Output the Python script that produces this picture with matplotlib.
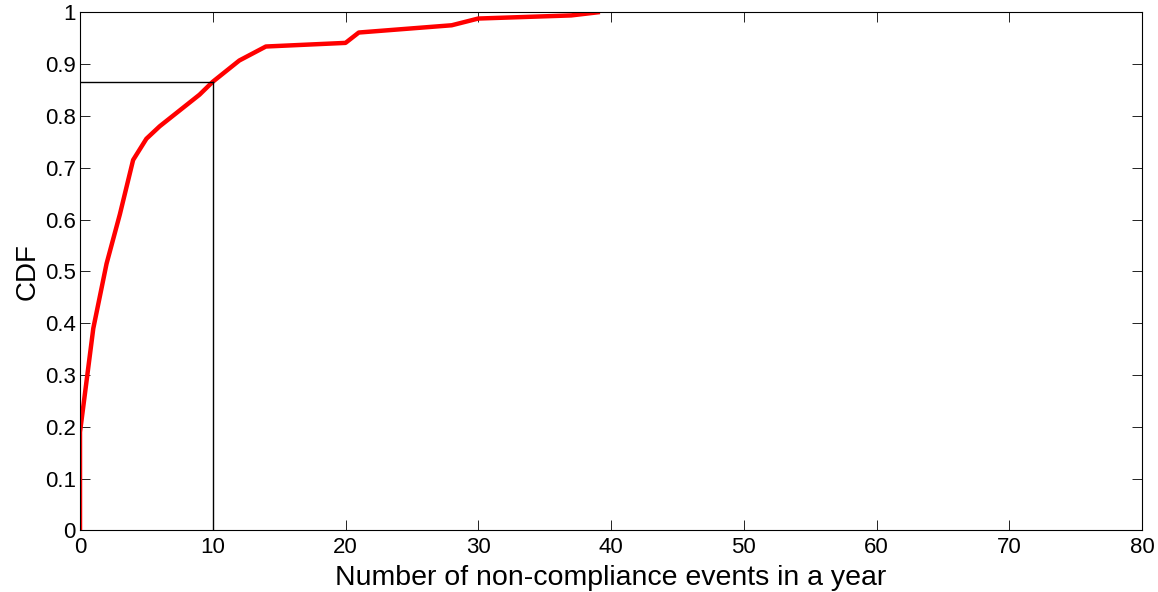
import numpy as np
import matplotlib
matplotlib.use('Agg')
import matplotlib.pyplot as plt

plt.rcParams['font.family'] = ['Liberation Sans', 'DejaVu Sans']

# CDF curve
events = [0, 0, 1, 2, 3, 4, 5, 6, 9, 10, 12, 14, 20, 21, 24, 28, 30, 37, 39]
cdf = [0, 0.19, 0.39, 0.515, 0.61, 0.715, 0.756, 0.78, 0.841, 0.866,
       0.907, 0.934, 0.941, 0.961, 0.967, 0.975, 0.988, 0.994, 1.0]

# marker lines at 10 events
mark_x = 10
mark_y = 0.866

xticks = np.arange(0, 81, 10)
yticks = np.arange(0, 1.01, 0.1)
ytick_labels = ['0', '0.1', '0.2', '0.3', '0.4', '0.5', '0.6', '0.7', '0.8', '0.9', '1']

fig = plt.figure(figsize=(11.58, 5.92), dpi=100)
ax = fig.add_axes([0.0691, 0.1039, 0.9171, 0.8753])

ax.plot(events, cdf, color='red', linewidth=3.2, solid_joinstyle='round')
ax.plot([0, mark_x], [mark_y, mark_y], color='black', linewidth=1.0)
ax.plot([mark_x, mark_x], [0, mark_y], color='black', linewidth=1.0)

ax.set_xlim(0, 80)
ax.set_ylim(0, 1)
ax.set_xticks(xticks)
ax.set_yticks(yticks)
ax.set_yticklabels(ytick_labels)
ax.tick_params(direction='in', length=7.5, width=0.6, top=True, right=True,
               labelsize=16, pad=3)
ax.tick_params(axis='x', pad=5)
for s in ax.spines.values():
    s.set_linewidth(0.8)

ax.set_xlabel('Number of non-compliance events in a year', fontsize=20.5, labelpad=5)
ax.set_ylabel('CDF', fontsize=20, labelpad=3)

fig.savefig('out.png', dpi=100)
